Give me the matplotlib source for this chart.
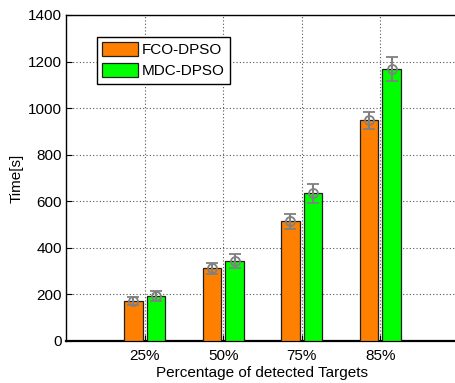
import numpy as np
import matplotlib.pyplot as plt

plt.rcParams['font.family'] = ['Liberation Sans', 'DejaVu Sans']

# Completion time per detection level
categories = ['25%', '50%', '75%', '85%']
fco_time = [172, 312, 514, 948]
mdc_time = [193, 343, 634, 1167]
fco_err = [16, 25, 31, 36]
mdc_err = [20, 31, 41, 52]

fig = plt.figure(figsize=(4.55, 3.83), dpi=100)
ax = fig.add_axes([66 / 455, 42 / 383, 393 / 455, 326 / 383])

x = np.arange(1, len(categories) + 1)
off = 0.144
w = 0.236
ax.bar(x - off, fco_time, w, color='#ff8000', edgecolor='#202020', linewidth=0.9, label='FCO-DPSO', zorder=3)
ax.bar(x + off, mdc_time, w, color='#00ff00', edgecolor='#202020', linewidth=0.9, label='MDC-DPSO', zorder=3)

eb = dict(fmt='o', mfc='none', mec='#808080', ms=6.5, mew=1.3, ecolor='#808080',
          elinewidth=1.5, capsize=4.5, capthick=1.5, zorder=4)
ax.errorbar(x - off, fco_time, yerr=fco_err, **eb)
ax.errorbar(x + off, mdc_time, yerr=mdc_err, **eb)

ax.set_xlim(0, 5)
ax.set_ylim(0, 1400)
ax.set_xticks(x)
ax.set_xticklabels(categories)
ax.set_yticks(np.arange(0, 1401, 200))
ax.tick_params(direction='in', length=4, labelsize=11, width=0.8)
ax.tick_params(axis='x', pad=6)
ax.tick_params(axis='y', pad=3)
ax.grid(True, linestyle=(0, (1, 2)), color='#555555', linewidth=0.8, zorder=0)
ax.set_axisbelow(True)
for s in ax.spines.values():
    s.set_linewidth(1.0)
ax.spines['bottom'].set_linewidth(1.6)

ax.set_xlabel('Percentage of detected Targets', fontsize=11, labelpad=2)
ax.set_ylabel('Time[s]', fontsize=11, labelpad=3)

leg = ax.legend(loc='upper left', bbox_to_anchor=(0.079, 0.933), fontsize=11,
                frameon=True, fancybox=False, framealpha=1, edgecolor='black',
                handlelength=2.3, handleheight=1.0, handletextpad=0.3,
                borderpad=0.35, labelspacing=0.4, borderaxespad=0)
leg.get_frame().set_linewidth(1.0)

fig.savefig('out.png', dpi=100)
